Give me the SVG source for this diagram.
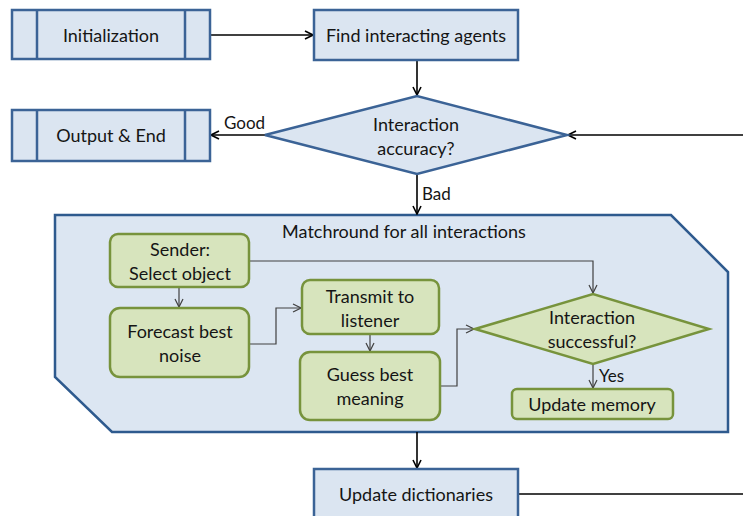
<svg xmlns="http://www.w3.org/2000/svg" width="743" height="516" viewBox="0 0 743 516">
<style>
.b{fill:#dbe5f1;stroke:#3b6396;stroke-width:2.5}
.g{fill:#d7e4bd;stroke:#77933c;stroke-width:2.5}
.t{font-family:Lato,"Open Sans","Liberation Sans",sans-serif;font-size:18px;fill:#151515;text-anchor:middle;dominant-baseline:central}
.l{font-family:Lato,"Open Sans","Liberation Sans",sans-serif;font-size:17px;fill:#151515;dominant-baseline:central}
.c{fill:none;stroke:#000;stroke-width:1.6}
.ci{fill:none;stroke:#404040;stroke-width:1.2}
</style>
<defs>
<marker id="a" viewBox="0 0 10 10" refX="9" refY="5" markerWidth="10" markerHeight="10" markerUnits="userSpaceOnUse" orient="auto"><path d="M1,1 L9,5 L1,9" fill="none" stroke="#000" stroke-width="1.6"/></marker>
<marker id="ai" viewBox="0 0 10 10" refX="9" refY="5" markerWidth="10" markerHeight="10" markerUnits="userSpaceOnUse" orient="auto"><path d="M1,1 L9,5 L1,9" fill="none" stroke="#404040" stroke-width="1.2"/></marker>
</defs>
<g id="matchround">
<polygon class="b" points="55,215 671,215 728,272 728,432 112,432 55,377" style="fill:#dce6f2;stroke:#2e5a8e"/>
<text class="t" x="404" y="231">Matchround for all interactions</text>
</g>
<g id="connectors">
<line class="c" x1="210" y1="35" x2="313" y2="35" marker-end="url(#a)"/>
<line class="c" x1="417" y1="60" x2="417" y2="95" marker-end="url(#a)"/>
<line class="c" x1="743" y1="135" x2="568" y2="135" marker-end="url(#a)"/>
<line class="c" x1="265" y1="135" x2="211" y2="135" marker-end="url(#a)"/>
<line class="c" x1="417" y1="174" x2="417" y2="214" marker-end="url(#a)"/>
<line class="c" x1="417" y1="432" x2="417" y2="468" marker-end="url(#a)"/>
<line class="c" x1="518" y1="494" x2="743" y2="494"/>
<polyline class="ci" points="249,261 593,261 593,293" marker-end="url(#ai)"/>
<line class="ci" x1="179" y1="287" x2="179" y2="307" marker-end="url(#ai)"/>
<polyline class="ci" points="249,344 276,344 276,308 301,308" marker-end="url(#ai)"/>
<line class="ci" x1="370" y1="334" x2="370" y2="351" marker-end="url(#ai)"/>
<polyline class="ci" points="440,386 457,386 457,329 474,329" marker-end="url(#ai)"/>
<line class="ci" x1="593" y1="364" x2="593" y2="388" marker-end="url(#ai)"/>
<text class="l" x="224" y="122">Good</text>
<text class="l" x="422" y="193">Bad</text>
<text class="l" x="599" y="375">Yes</text>
</g>
<g id="init">
<rect class="b" x="12" y="10" width="198" height="49"/>
<line class="b" x1="37" y1="10" x2="37" y2="59"/>
<line class="b" x1="185" y1="10" x2="185" y2="59"/>
<text class="t" x="111" y="35">Initialization</text>
</g>
<g id="output">
<rect class="b" x="12" y="110" width="198" height="51"/>
<line class="b" x1="37" y1="110" x2="37" y2="161"/>
<line class="b" x1="185" y1="110" x2="185" y2="161"/>
<text class="t" x="111" y="135">Output &amp; End</text>
</g>
<g id="find">
<rect class="b" x="314" y="10" width="204" height="50"/>
<text class="t" x="416" y="35">Find interacting agents</text>
</g>
<g id="accuracy">
<polygon class="b" points="265,135 417,96 567,135 417,174"/>
<text class="t" x="416" y="124">Interaction</text>
<text class="t" x="416" y="148">accuracy?</text>
</g>
<g id="sender">
<rect class="g" x="110" y="234" width="139" height="53" rx="8"/>
<text class="t" x="180" y="249">Sender:</text>
<text class="t" x="180" y="273">Select object</text>
</g>
<g id="forecast">
<rect class="g" x="110" y="308" width="139" height="69" rx="10"/>
<text class="t" x="180" y="331">Forecast best</text>
<text class="t" x="180" y="355">noise</text>
</g>
<g id="transmit">
<rect class="g" x="302" y="280" width="137" height="54" rx="8"/>
<text class="t" x="370" y="296">Transmit to</text>
<text class="t" x="370" y="320">listener</text>
</g>
<g id="guess">
<rect class="g" x="300" y="352" width="140" height="68" rx="10"/>
<text class="t" x="370" y="374">Guess best</text>
<text class="t" x="370" y="398">meaning</text>
</g>
<g id="success">
<polygon class="g" points="475,329 593,294 709,329 593,364"/>
<text class="t" x="592" y="317">Interaction</text>
<text class="t" x="592" y="341">successful?</text>
</g>
<g id="memory">
<rect class="g" x="512" y="389" width="161" height="30" rx="5"/>
<text class="t" x="592" y="404">Update memory</text>
</g>
<g id="dict">
<rect class="b" x="314" y="469" width="204" height="60"/>
<text class="t" x="416" y="494">Update dictionaries</text>
</g>
</svg>
